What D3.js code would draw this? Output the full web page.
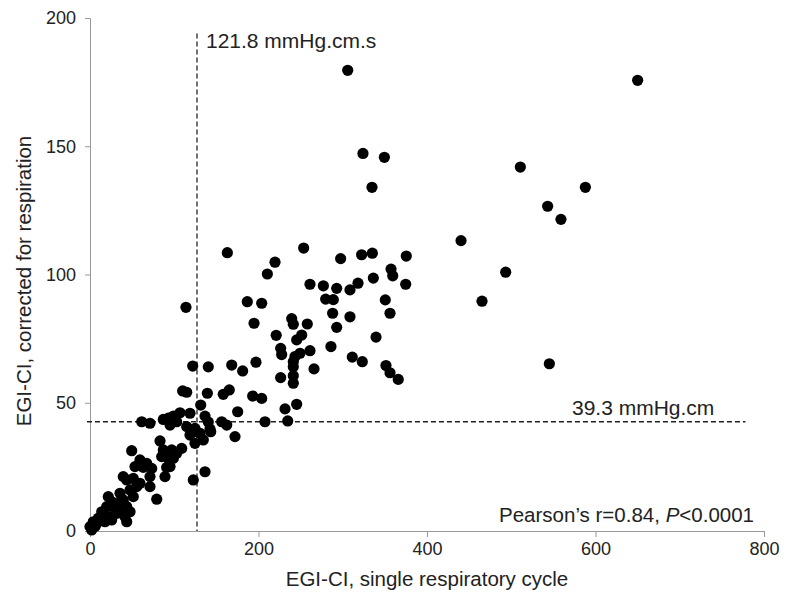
<!doctype html>
<html lang="en">
<head>
<meta charset="utf-8">
<title>EGI-CI scatter</title>
<script src="https://d3js.org/d3.v7.min.js"></script>
<style>
  body { margin: 0; background: #fff; }
  text { font-family: "Liberation Sans", Arial, sans-serif; fill: #222; }
</style>
</head>
<body>
<svg id="chart" width="785" height="597"></svg>
<script>
// EGI-CI single respiratory cycle (x) vs corrected for respiration (y)
var xVals = [305.9, 650, 324, 349.4, 334.7, 510.8, 588, 543.2, 559, 440.4, 493.4, 465.3, 545.2,
  253.6, 297.5, 322.4, 335.1, 375.4, 261.1, 277, 292.8, 318.1, 308.6, 336.3, 357.3, 359.3, 374.7,
  279.7, 288.8, 350.5, 288, 308.6, 356.1, 239.4, 241.3, 257.9, 292.8, 339.5, 251.3, 245.3, 221,
  226.3, 227.5, 249.3, 243.3, 241.3, 241.3, 261.1, 286, 311.3, 323.2, 265.9, 351.3, 356.1, 365.9,
  241.3, 241.3, 163, 219.6, 210.5, 113.9, 186.7, 203.8, 194.7, 197, 168.2, 181.2, 121.9, 140.4,
  226.3, 110, 114.8, 139.3, 158.2, 165.3, 193.1, 203.8, 131.4, 175.3, 231.5, 245.3, 87, 93, 99,
  106.8, 118.7, 136.5, 140.4, 61.4, 71.2, 156.3, 162.3, 207.7, 234.7, 114.8, 124.6, 142.4, 95,
  102.9, 120.7, 124.6, 130.6, 134.5, 118.7, 124.6, 143.3, 172.1, 83.1, 87, 85.1, 97, 102.9, 108.8,
  92.9, 98.9, 95, 91, 49.5, 59.3, 53.4, 63.2, 67.2, 73.2, 71.2, 89, 122.6, 136.5, 39.5, 43.6, 51.4,
  55.4, 59.3, 47.5, 51.4, 71.2, 79.2, 35.6, 39.5, 33.6, 21.7, 25.7, 19.8, 27.7, 35.6, 31.7, 43.6,
  47.5, 41.5, 43.6, 13.9, 15.8, 9.9, 23.7, 25.7, 3.9, 8, 0, 2, 11.9, 17.8, 5.9];
var yVals = [179.6, 175.7, 147.2, 145.7, 134, 141.9, 134, 126.6, 121.5, 113.2, 100.9, 89.6, 65.2,
  110.3, 106.2, 107.7, 108.3, 107.2, 96.2, 95.6, 94.6, 96.6, 94, 98.6, 102.1, 99.5, 96.2,
  90.4, 90.2, 90.1, 84.9, 83.5, 84.9, 82.8, 80.6, 80.7, 79.4, 75.6, 76.4, 74.5, 76.3,
  71.2, 68.8, 69.3, 68, 66, 64, 70.3, 71.9, 67.8, 66, 63.2, 64.5, 61.7, 59.1,
  60.5, 57.6, 108.5, 104.8, 100.2, 87.2, 89.4, 88.8, 81, 65.8, 64.7, 62.4, 64.3, 64,
  59.8, 54.6, 54.1, 53.7, 53.3, 55, 52.6, 51.7, 49.1, 46.5, 47.6, 49.4, 43.5, 44, 44.8,
  46.1, 45.9, 44.8, 42.5, 42.6, 42, 42.6, 41.3, 42.6, 42.9, 40.7, 40, 39.8, 41.3,
  42.6, 39.4, 38.7, 38.1, 35.5, 37.4, 34.2, 38.7, 36.8, 35.1, 31.6, 29, 31.6, 30.3, 32.2,
  28.3, 28.3, 25.1, 24.8, 31.3, 27.7, 25.1, 24.8, 26.4, 24.4, 21.2, 21.2, 19.9, 23.1, 21.2, 19.9, 20.5,
  17.3, 18.6, 16, 13.4, 17.3, 12.4, 14.7, 12.1, 10.8, 13.4, 11.4, 9.5, 9.5, 8.8, 6.9, 9.5,
  7.5, 5.6, 3.6, 7.5, 5.6, 5, 5.6, 4.3, 3.6, 3, 1.7, 0.4, 4.3, 3.6, 1.7];

var xTicks = [0, 200, 400, 600, 800];
var yTicks = [0, 50, 100, 150, 200];
var xCut = 127, yCut = 42.6;   // drawn positions of the dashed cut-offs
var xCutLabel = "121.8 mmHg.cm.s", yCutLabel = "39.3 mmHg.cm";

var svg = d3.select("#chart");
var x = d3.scaleLinear().domain([0, 800]).range([90, 764]);
var y = d3.scaleLinear().domain([0, 200]).range([531, 18]);

var xAxis = svg.append("g")
  .attr("transform", "translate(0," + y(0) + ")")
  .call(d3.axisBottom(x).tickValues(xTicks).tickSize(6).tickPadding(5));
var yAxis = svg.append("g")
  .attr("transform", "translate(" + x(0) + ",0)")
  .call(d3.axisLeft(y).tickValues(yTicks).tickSize(5).tickPadding(9));

[xAxis, yAxis].forEach(function(g) {
  g.selectAll("path, line").attr("stroke", "#999").attr("stroke-width", 1);
  g.selectAll("text").attr("font-size", 18).attr("fill", "#222")
    .attr("font-family", "Liberation Sans, Arial, sans-serif");
});
yAxis.selectAll(".tick line").filter(function(d) { return d === 0; }).remove();

// dashed cut-off lines
svg.append("line")
  .attr("x1", x(xCut)).attr("x2", x(xCut))
  .attr("y1", y(194)).attr("y2", y(0))
  .attr("stroke", "#222").attr("stroke-width", 1.3).attr("stroke-dasharray", "5,3");
svg.append("line")
  .attr("x1", x(0) - 3).attr("x2", x(778))
  .attr("y1", y(yCut)).attr("y2", y(yCut))
  .attr("stroke", "#222").attr("stroke-width", 1.3).attr("stroke-dasharray", "5,3");

// points
svg.append("g").selectAll("circle")
  .data(d3.range(xVals.length))
  .enter().append("circle")
  .attr("cx", function(i) { return x(xVals[i]); })
  .attr("cy", function(i) { return y(yVals[i]); })
  .attr("r", 5.6)
  .attr("fill", "#000");

// annotations
svg.append("text").attr("x", x(xCut) + 9).attr("y", 48)
  .attr("font-size", 21).text(xCutLabel);
svg.append("text").attr("x", 572).attr("y", 415)
  .attr("font-size", 21).text(yCutLabel);

var stat = svg.append("text").attr("x", 754).attr("y", 522)
  .attr("text-anchor", "end").attr("font-size", 20.5);
stat.append("tspan").text("Pearson\u2019s r=0.84, ");
stat.append("tspan").attr("font-style", "italic").text("P");
stat.append("tspan").text("<0.0001");

// axis titles
svg.append("text").attr("x", 427).attr("y", 586)
  .attr("text-anchor", "middle").attr("font-size", 20.5)
  .text("EGI-CI, single respiratory cycle");
svg.append("text")
  .attr("transform", "translate(31," + 281 + ") rotate(-90)")
  .attr("text-anchor", "middle").attr("font-size", 20.5)
  .text("EGI-CI, corrected for respiration");
</script>
</body>
</html>
